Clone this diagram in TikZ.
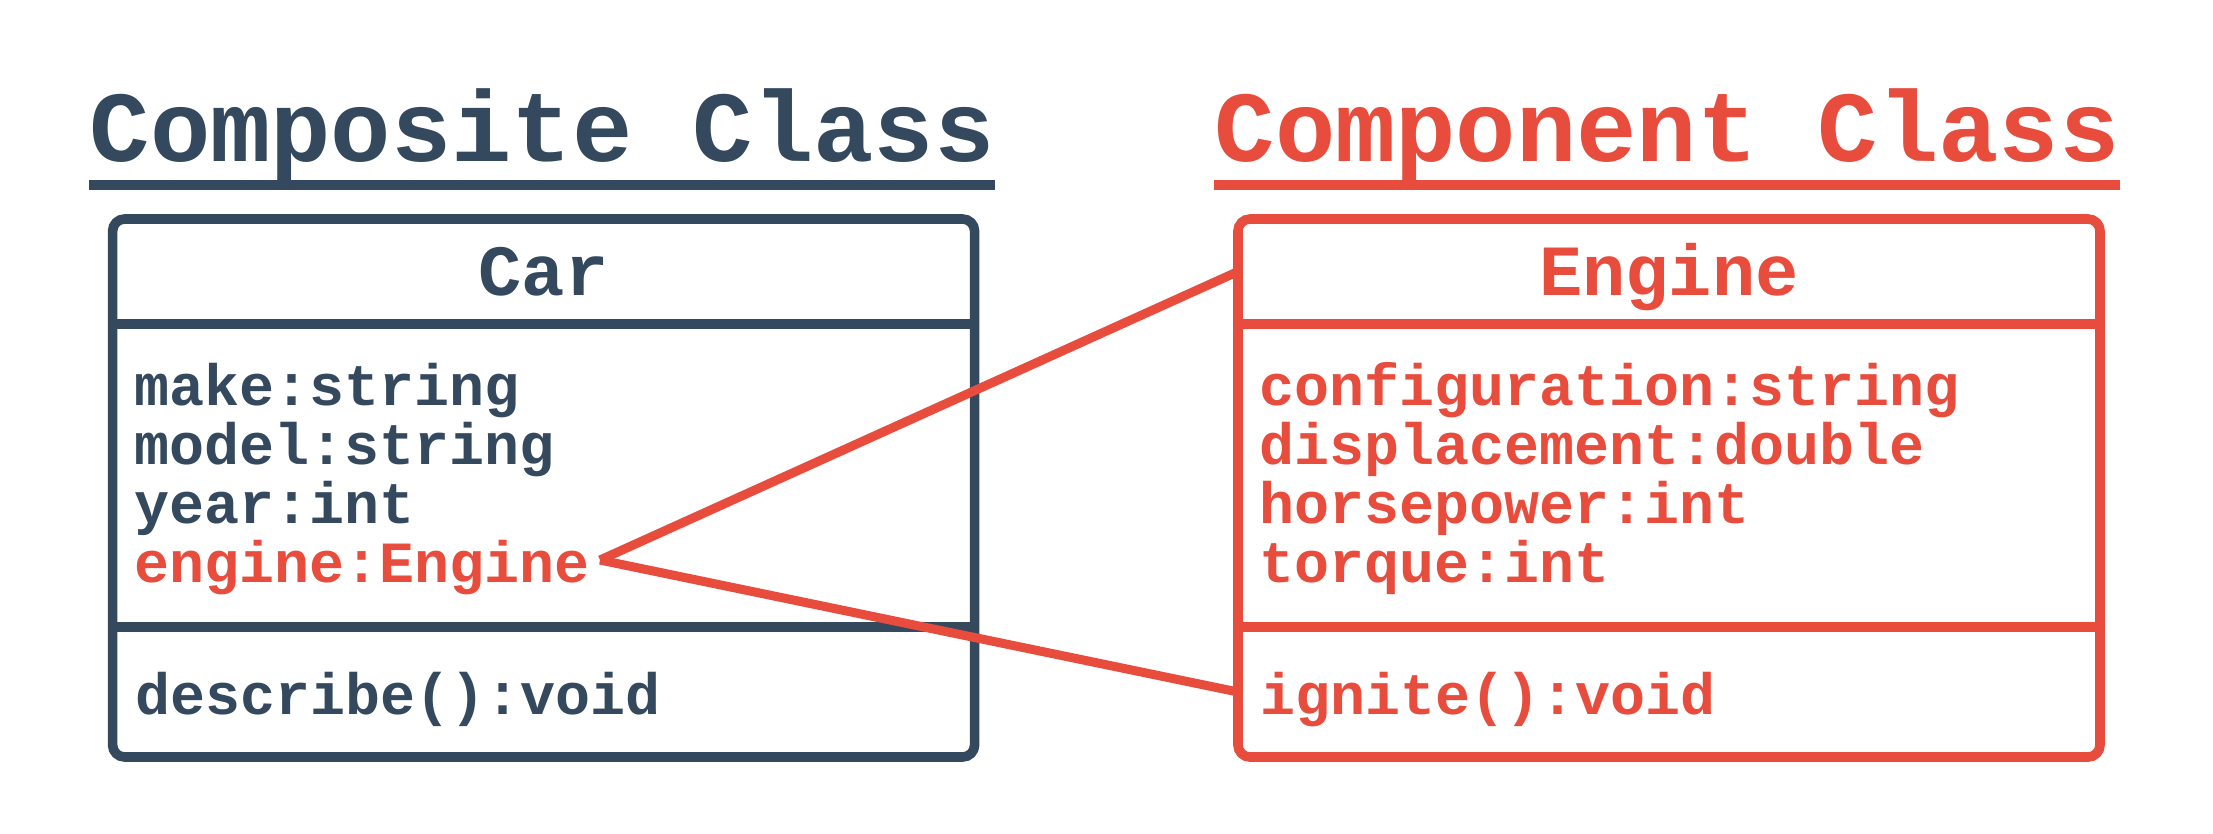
\documentclass[tikz,border=0pt]{standalone}
\usepackage{fontspec}
\setmonofont{Liberation Mono}
\usepackage{xcolor}
\usepackage{tikz}
\usetikzlibrary{positioning}
\definecolor{umlnavy}{HTML}{34495E}
\definecolor{umlred}{HTML}{E74C3C}

\tikzset{
  classbox/.style={draw=#1,line width=0.096cm,rounded corners=0.12cm,
    minimum width=8.62cm,minimum height=5.38cm,inner sep=0pt,outer sep=0pt},
  compart/.style={minimum width=8.62cm,inner sep=0pt,outer sep=0pt},
  classname/.style={compart,minimum height=1.05cm,text height=0.48cm,text depth=0pt,
    font=\ttfamily\bfseries\fontsize{20.5}{20.5}\selectfont},
  member/.style={anchor=base west,inner xsep=0.1cm,inner ysep=0pt,
    text height=0.58cm,text depth=0.14cm,
    font=\ttfamily\bfseries\fontsize{16.6}{16.6}\selectfont},
  methods/.style={compart,minimum height=1.30cm,text width=8.17cm,inner xsep=0.21cm,
    align=left,text height=0.58cm,text depth=0.14cm,
    font=\ttfamily\bfseries\fontsize{16.6}{16.6}\selectfont},
  heading/.style={anchor=base west,inner sep=0pt,
    font=\ttfamily\bfseries\fontsize{28.6}{28.6}\selectfont},
  headline/.style={line width=0.1cm},
  link/.style={draw=umlred,line width=0.09cm}
}

\begin{document}
\begin{tikzpicture}
\path[fill=white,use as bounding box] (0,0) rectangle (22.13,-8.33);

\node[heading,text=umlnavy] (composite-title) at (0.89,-1.617) {Composite Class};
\draw[headline,umlnavy] ([yshift=-0.235cm]composite-title.base west) -- ([yshift=-0.235cm]composite-title.base east);
\node[heading,text=umlred] (component-title) at (12.14,-1.617) {Component Class};
\draw[headline,umlred] ([yshift=-0.235cm]component-title.base west) -- ([yshift=-0.235cm]component-title.base east);

\node[classbox=umlnavy] (car) at (5.436,-4.88) {};
\node[classname,text=umlnavy,anchor=north] (car-head) at (car.north) {Car};
\node[methods,text=umlnavy,anchor=south] (car-ops) at (car.south) {describe():void};
\draw[umlnavy,line width=0.096cm] (car-head.south west) -- (car-head.south east);
\draw[umlnavy,line width=0.096cm] (car-ops.north west) -- (car-ops.north east);
\node[member,text=umlnavy] (car-make) at (1.235,-4.05) {make:string};
\node[member,text=umlnavy] (car-model) at (1.235,-4.64) {model:string};
\node[member,text=umlnavy] (car-year) at (1.235,-5.23) {year:int};
\node[member,text=umlred] (car-engine) at (1.235,-5.82) {engine:Engine};

\node[classbox=umlred] (engine) at (16.69,-4.88) {};
\node[classname,text=umlred,anchor=north] (engine-head) at (engine.north) {Engine};
\node[methods,text=umlred,anchor=south] (engine-ops) at (engine.south) {ignite():void};
\draw[umlred,line width=0.096cm] (engine-head.south west) -- (engine-head.south east);
\draw[umlred,line width=0.096cm] (engine-ops.north west) -- (engine-ops.north east);
\node[member,text=umlred] (engine-config) at (12.49,-4.05) {configuration:string};
\node[member,text=umlred] (engine-disp) at (12.49,-4.64) {displacement:double};
\node[member,text=umlred] (engine-hp) at (12.49,-5.23) {horsepower:int};
\node[member,text=umlred] (engine-torque) at (12.49,-5.82) {torque:int};

\draw[link] (car-engine.east) -- (engine-head.west);
\draw[link] (car-engine.east) -- (engine-ops.west);
\end{tikzpicture}
\end{document}
